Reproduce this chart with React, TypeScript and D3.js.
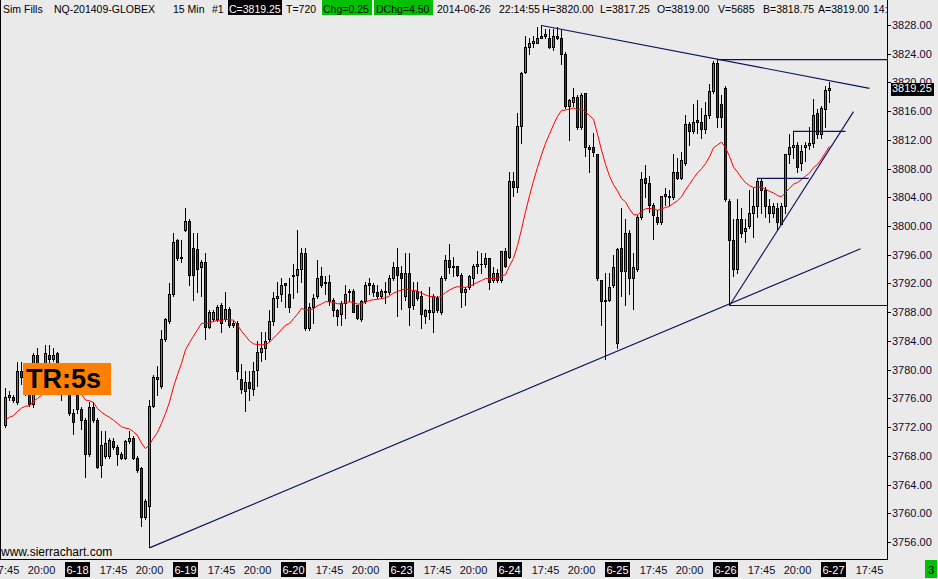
import React from 'react';
import * as d3 from 'd3';

// ---- data (15-min bars, first visible bar = 6-17 17:45) ----
const opens = [
3772.25,3776.25,3776.25,3775.5,3779.75,3779,3778.5,3775.25,3782,3779.5,
3780,3782,3781.5,3782.25,3779.5,3778,3777,3774,3776.5,3774.5,
3773,3768.25,3774.75,3773,3766.75,3768,3768,3770,3769.25,3768.25,
3767.75,3770,3770.5,3767.75,3766.25,3759.5,3761,3775,3778.75,3777.75,
3784.25,3786.75,3790.5,3798,3795.5,3799.5,3800.75,3797,3796.75,3794.25,
3795,3786,3787,3787,3789,3787,3788.5,3786.25,3786.5,3778.75,
3777,3778.25,3777.25,3780,3782.5,3783,3784.25,3786.75,3790,3790.5,
3792,3790.5,3793,3793.25,3794,3796.25,3785.75,3788.75,3790.25,3793,
3792,3792.25,3789.75,3788.25,3787.75,3789.25,3790.75,3791,3789,3787,
3789.5,3792,3791.75,3790.75,3790.25,3790.75,3790.75,3792.75,3794.25,3793.5,
3790.25,3793.5,3789,3791,3790.25,3787.5,3788.25,3788,3790,3788,
3792.75,3795.25,3794.5,3794.5,3793.25,3790.75,3791.5,3792.75,3794.5,3794.75,
3794.75,3795.5,3792.5,3793.5,3792.5,3796.5,3795.75,3806.25,3805.5,3814,
3821.5,3825,3825.5,3825.5,3826.25,3826.5,3826.25,3825,3826.5,3826.25,
3824,3816.75,3817.25,3818,3813.75,3818.5,3811,3811,3810,3792.5,
3789.5,3789.75,3791.75,3783.75,3797,3793.75,3799,3792.75,3794,3801.25,
3806.75,3806,3803,3801.25,3800.5,3804.25,3804.25,3804,3807.5,3806.75,
3808.75,3814.25,3813.25,3814.75,3814.5,3813.5,3815.5,3818.75,3822.75,3817,
3819.25,3803.5,3798,3794,3801,3799.25,3800,3801.75,3802.75,3806.25,
3805,3802.75,3801.75,3802.5,3800.25,3802.75,3810,3811,3811.25,3808.75,
3811,3811.25,3811.5,3815.75,3812.75,3816.25,3819];
const highs = [
3777.5,3777,3776.5,3781,3781,3780,3779.5,3782.25,3783,3780.75,
3783.5,3783.5,3783,3782.5,3780,3779.5,3778,3774.5,3777,3774.75,
3773.25,3775.5,3775.5,3773.25,3771.5,3771.5,3770.5,3770.5,3769.5,3768.5,
3770.25,3771.5,3770.75,3768,3766.5,3762,3775.75,3779.25,3780.5,3785.5,
3787.25,3792,3799,3798.25,3798,3802.5,3801,3799,3799,3795.25,
3796.25,3788.25,3788.25,3789,3789.25,3790.75,3788.75,3786.75,3786.75,3780.75,
3779.75,3779.75,3781,3784,3785.25,3785.25,3788.25,3790.75,3792.25,3792.75,
3792,3792.75,3794.75,3799.5,3797,3797,3789.25,3790.5,3795.25,3794.25,
3793,3793.25,3790,3788.5,3789.5,3791.75,3791.25,3791.25,3789,3789.75,
3792.25,3792.75,3792,3791.75,3791.25,3792.25,3793.25,3795,3797,3794.5,
3796.25,3796.25,3792.25,3792.25,3791,3788.5,3791.5,3790.5,3790.25,3793,
3796,3797.5,3795.75,3794.5,3793.5,3791.5,3793.25,3794.75,3796.5,3796.25,
3796.25,3795.5,3794.25,3794,3796.5,3797,3807.5,3807.5,3815.75,3821.5,
3826.5,3826.25,3826.5,3827.75,3828,3827.5,3827.5,3827.5,3827.75,3827.25,
3824.25,3817.75,3819.25,3818.25,3818.5,3818.5,3811.25,3813,3810,3792.5,
3793.5,3793.5,3796,3797,3802.5,3801,3799.5,3796.25,3801.5,3807.5,
3808.5,3807,3803.25,3802.25,3804.25,3805.25,3805,3810,3809.5,3810.25,
3815.5,3814.5,3817,3817.5,3816.5,3817.25,3819.75,3823,3823.25,3818.25,
3819.5,3803.75,3801,3803.75,3802.5,3801,3805,3805.25,3806.75,3806.5,
3805.5,3803.75,3803.25,3803.25,3803.25,3810,3812.75,3813.25,3811.75,3811.25,
3811.75,3813.75,3817.75,3816.25,3816.75,3819.5,3820];
const lows = [
3772,3775.75,3775.5,3775.25,3778,3776.5,3775,3774.75,3779,3779,
3779.5,3781,3781.25,3778.5,3775.75,3777.5,3773.75,3771,3774,3771.75,
3765,3768,3772.75,3766.25,3765,3767.75,3767.75,3769,3766.75,3767.5,
3767.5,3769.75,3767.5,3765.75,3758.25,3759.25,3755.25,3774.75,3776.5,3777.5,
3784,3786.5,3790.25,3795.25,3795,3799.25,3791.75,3789.75,3790.75,3790.25,
3784.25,3785.75,3786.75,3786.75,3785.25,3786.75,3786,3786,3778.75,3776.75,
3774.25,3775.75,3776.5,3777.75,3781.25,3781.5,3784,3786.25,3788.75,3789.5,
3788.75,3788,3790,3790.75,3792.25,3785.5,3785.5,3786.5,3790,3791.5,
3790.5,3789,3787.5,3786.25,3786.25,3787.25,3789.5,3788,3787,3786.75,
3789.25,3790.5,3790.25,3790,3790,3789.25,3790.5,3792.5,3787.5,3788.5,
3789.75,3786.25,3788.5,3789.75,3785.75,3786.5,3787,3785.25,3788,3787.75,
3792.5,3793.5,3793,3793,3788.75,3789,3791.25,3791.75,3793.5,3793.5,
3794.25,3791.25,3792.25,3792.25,3792.25,3794.25,3795.5,3804.25,3804.75,3811.5,
3821.25,3824,3825,3825.5,3826.25,3826.25,3824.75,3824.5,3826,3822.5,
3816.5,3812,3816.75,3813.5,3813.5,3809.75,3807.5,3809.75,3792.5,3786.25,
3781.5,3789.5,3791.5,3783,3790.25,3789,3790.5,3788.5,3793.75,3801,
3804,3802,3798.25,3800.25,3800.25,3803,3803,3803.75,3806.5,3806.5,
3808.5,3811.25,3813,3813,3812.25,3813,3815,3818.5,3813.75,3813.75,
3803.5,3789,3793,3793.5,3798.5,3797.75,3799.75,3798.5,3801.25,3801.75,
3801.25,3800.5,3801.25,3799.5,3800.25,3801.75,3808.75,3809.5,3807.5,3807.75,
3809,3810.75,3811,3812.25,3812.25,3813.75,3817.25];
const closes = [
3776.25,3776.5,3775.75,3779.75,3779,3777.5,3775.25,3782,3779.5,3780.5,
3782.25,3781.5,3782,3779.5,3778,3778.5,3774,3772.75,3774.5,3773,
3768.25,3774.75,3773,3766.5,3769.5,3769.75,3770.25,3769.25,3768.25,3767.75,
3770,3770.5,3767.75,3766,3759.5,3761.75,3775,3779,3779,3784.25,
3787,3790.5,3797.75,3795.5,3795.75,3800.75,3793.25,3793.25,3794,3795,
3786,3788,3788,3788.75,3786.5,3788.5,3786.25,3786.5,3779.75,3777.25,
3778.25,3777.5,3779.75,3782.5,3783,3784,3786.75,3790,3790.25,3791.75,
3791.75,3788.75,3793.25,3794,3796.25,3785.75,3788.75,3790,3792.75,3791.75,
3792.25,3789.5,3788.25,3787.5,3789.25,3790.5,3791,3788,3787.25,3789.5,
3791.75,3791.75,3790.75,3790.25,3791,3791,3792.75,3794.25,3793.25,3792.75,
3793.5,3788.75,3791,3790,3787.75,3788.25,3788,3790.25,3788.25,3792.75,
3795.25,3794.25,3794.25,3793.25,3790.75,3791.25,3793,3794.5,3794.75,3794.75,
3795.5,3792.25,3793.5,3792.5,3796.5,3794.5,3806.25,3805.5,3814,3821.25,
3825,3825.5,3825.75,3826.25,3826.5,3826.75,3825,3826.5,3826.25,3824,
3816.75,3817.5,3818,3813.75,3818.25,3811,3810.75,3810.25,3792.75,3789.5,
3789.75,3791.5,3794.25,3796.75,3793.75,3799,3792.75,3794.25,3801.25,3806.5,
3806,3803,3801.5,3800.5,3804.25,3804.5,3804,3807.5,3806.75,3809.25,
3814.25,3813.25,3814.5,3814.5,3813.5,3815.5,3818.75,3822.75,3815.25,3815.25,
3803.75,3798,3794,3801,3799,3799.75,3801.75,3802.75,3806.25,3805,
3802.75,3801.75,3802.75,3800.5,3802.75,3810,3811,3811.25,3808.25,3810.5,
3811.25,3811.5,3815.5,3812.75,3816.5,3819,3819.25];

const maLength = 20;
const maSeed = 3772.7; // EMA value just before the first visible bar

const priceTicks = [3756,3760,3764,3768,3772,3776,3780,3784,3788,3792,3796,3800,3804,3808,3812,3816,3820,3824,3828];
const dayLabels = ['6-17','6-18','6-19','6-20','6-23','6-24','6-25','6-26','6-27'];
const dayStartBars = [-9, 18, 45, 72, 99, 126, 153, 180, 207];
const timeLabels = ['17:45', '20:00'];
const timeOffsets = [9, 18];

// drawn tools: [barIndex1, price1, barIndex2, price2]
const trendLines = [
  [36, 3755.25, 213.75, 3796.9],
  [134, 3828, 216, 3819.25],
  [181, 3789, 212, 3816],
  [178, 3823.25, 221, 3823.25],
  [181, 3789, 221, 3789],
  [187.9, 3806.7, 200.8, 3806.7],
  [196.9, 3813.25, 210, 3813.25],
];

// header tokens: text, x, background box [x0, x1] or null, text colour
const headerTokens: [string, number, number[] | null, string][] = [
  ['Sim Fills', 3, null, '#000'],
  ['NQ-201409-GLOBEX', 54, null, '#000'],
  ['15 Min', 173, null, '#000'],
  ['#1', 212, null, '#000'],
  ['C=3819.25', 229, [228, 282], '#fff'],
  ['T=720', 286, null, '#000'],
  ['Chg=0.25', 323, [322, 372], '#000'],
  ['DChg=4.50', 376, [374, 433], '#000'],
  ['2014-06-26', 437, null, '#000'],
  ['22:14:55', 499, null, '#000'],
  ['H=3820.00', 542, null, '#000'],
  ['L=3817.25', 600, null, '#000'],
  ['O=3819.00', 657, null, '#000'],
  ['V=5685', 718, null, '#000'],
  ['B=3818.75', 763, null, '#000'],
  ['A=3819.00', 818, null, '#000'],
  ['14:55', 873, null, '#000'],
];

const W = 938, H = 579;
const AXIS_X = 887, AXIS_Y = 559;
const FONT = '"Liberation Sans", Arial, sans-serif';
const BG = '#eaeaea';
const NAVY = '#10105a';

export default function App() {
  const x = d3.scaleLinear().domain([0, 206]).range([5, 829]);
  const y = d3.scaleLinear().domain([3756, 3828]).range([541.96, 25]);

  // EMA of closes
  const alpha = 2 / (maLength + 1);
  const ema: number[] = [];
  let prev = maSeed;
  closes.forEach((c) => { prev = prev + alpha * (c - prev); ema.push(prev); });
  const maPath = d3.line<number>().x((_, i) => x(i) + 0.5).y((d) => y(d))(ema) || '';

  const candles = opens.map((o, i) => {
    const c = closes[i];
    const X = Math.round(x(i));
    const top = Math.round(y(Math.max(o, c)));
    const bot = Math.round(y(Math.min(o, c)));
    const hy = Math.round(y(highs[i]));
    const ly = Math.round(y(lows[i]));
    const color = c > o ? '#00c800' : c < o ? '#c80000' : '#000';
    return (
      <g key={i}>
        <line x1={X + 0.5} x2={X + 0.5} y1={hy} y2={ly + 1} stroke="#000" strokeWidth={1} />
        {bot - top < 2 ? (
          <rect x={X - 1} y={top} width={3} height={Math.max(1, bot - top + 1)} fill="#000" />
        ) : (
          <rect x={X - 0.5} y={top + 0.5} width={2} height={bot - top} fill={color} stroke="#000" strokeWidth={1} />
        )}
      </g>
    );
  });

  const xLabels: { t: string; k: number; date: boolean }[] = [];
  dayStartBars.forEach((k, di) => {
    xLabels.push({ t: dayLabels[di], k, date: true });
    timeLabels.forEach((t, ti) => xLabels.push({ t, k: k + timeOffsets[ti], date: false }));
  });

  const lastClose = closes[closes.length - 1];

  return (
    <div style={{ position: 'absolute', left: 0, top: 0 }}>
      <svg width={W} height={H} style={{ display: 'block' }} fontFamily={FONT}>
        <defs>
          <clipPath id="plot"><rect x={0} y={0} width={AXIS_X} height={AXIS_Y} /></clipPath>
          <clipPath id="xaxis"><rect x={0} y={AXIS_Y} width={AXIS_X} height={H - AXIS_Y} /></clipPath>
          <clipPath id="hdr"><rect x={0} y={0} width={AXIS_X} height={19} /></clipPath>
        </defs>
        <rect x={0} y={0} width={W} height={H} fill={BG} />

        <g clipPath="url(#plot)" shapeRendering="crispEdges">{candles}</g>
        <g clipPath="url(#plot)">
          <path d={maPath} fill="none" stroke="#ff0000" strokeWidth={1} />
          {trendLines.map((l, i) => (
            <line key={i} x1={x(l[0]) + 0.5} y1={y(l[1]) + 0.5} x2={x(l[2]) + 0.5} y2={y(l[3]) + 0.5}
              stroke={NAVY} strokeWidth={1.15} />
          ))}
        </g>

        {/* TR box */}
        <rect x={23} y={363} width={88} height={32} fill="#ff8000" />
        <text x={26} y={388} fontSize={27} fontWeight="bold" fill="#000" fontFamily={'Arial, "Liberation Sans", sans-serif'}>TR:5s</text>

        {/* watermark */}
        <text x={1} y={556} fontSize={12} fill="#000">www.sierrachart.com</text>

        {/* axes lines */}
        <g shapeRendering="crispEdges">
          <line x1={0.5} x2={0.5} y1={0} y2={AXIS_Y} stroke="#000" />
          <line x1={AXIS_X + 0.5} x2={AXIS_X + 0.5} y1={0} y2={AXIS_Y + 1} stroke="#000" />
          <line x1={0} x2={AXIS_X + 1} y1={AXIS_Y + 0.5} y2={AXIS_Y + 0.5} stroke="#000" />
        </g>

        {/* price axis */}
        {priceTicks.map((p) => (
          <g key={p}>
            <line x1={AXIS_X} x2={AXIS_X + 4} y1={Math.round(y(p)) + 0.5} y2={Math.round(y(p)) + 0.5} stroke="#000" shapeRendering="crispEdges" />
            <text x={892} y={y(p) + 4} fontSize={11} fill="#0a0a30">{p.toFixed(2)}</text>
          </g>
        ))}
        <rect x={891} y={Math.round(y(lastClose)) - 5} width={43} height={13} fill="#000" />
        <text x={892} y={y(lastClose) + 4} fontSize={11} fill="#fff">{lastClose.toFixed(2)}</text>

        {/* time axis */}
        <g clipPath="url(#xaxis)">
          {xLabels.map((l, i) => {
            const cx = x(l.k);
            return l.date ? (
              <g key={i}>
                <rect x={cx - 12} y={562} width={25} height={15} fill="#000" />
                <text x={cx + 0.5} y={573.5} fontSize={11} fill="#fff" textAnchor="middle">{l.t}</text>
              </g>
            ) : (
              <text key={i} x={cx + 0.5} y={573.5} fontSize={11} fill="#0a0a30" textAnchor="middle">{l.t}</text>
            );
          })}
        </g>
        <rect x={925} y={560} width={12} height={18} fill="#00c000" />
        <text x={931} y={573.5} fontSize={11} fill="#000" textAnchor="middle">3</text>

        {/* header */}
        <g clipPath="url(#hdr)">
          {headerTokens.map(([t, hx, box, fg], i) => (
            <g key={i}>
              {box && <rect x={box[0]} y={0} width={box[1] - box[0]} height={15} fill={fg === '#fff' ? '#000' : '#00c000'} />}
              <text x={hx} y={12.5} fontSize={10.5} fill={fg}>{t}</text>
            </g>
          ))}
        </g>
      </svg>
    </div>
  );
}
